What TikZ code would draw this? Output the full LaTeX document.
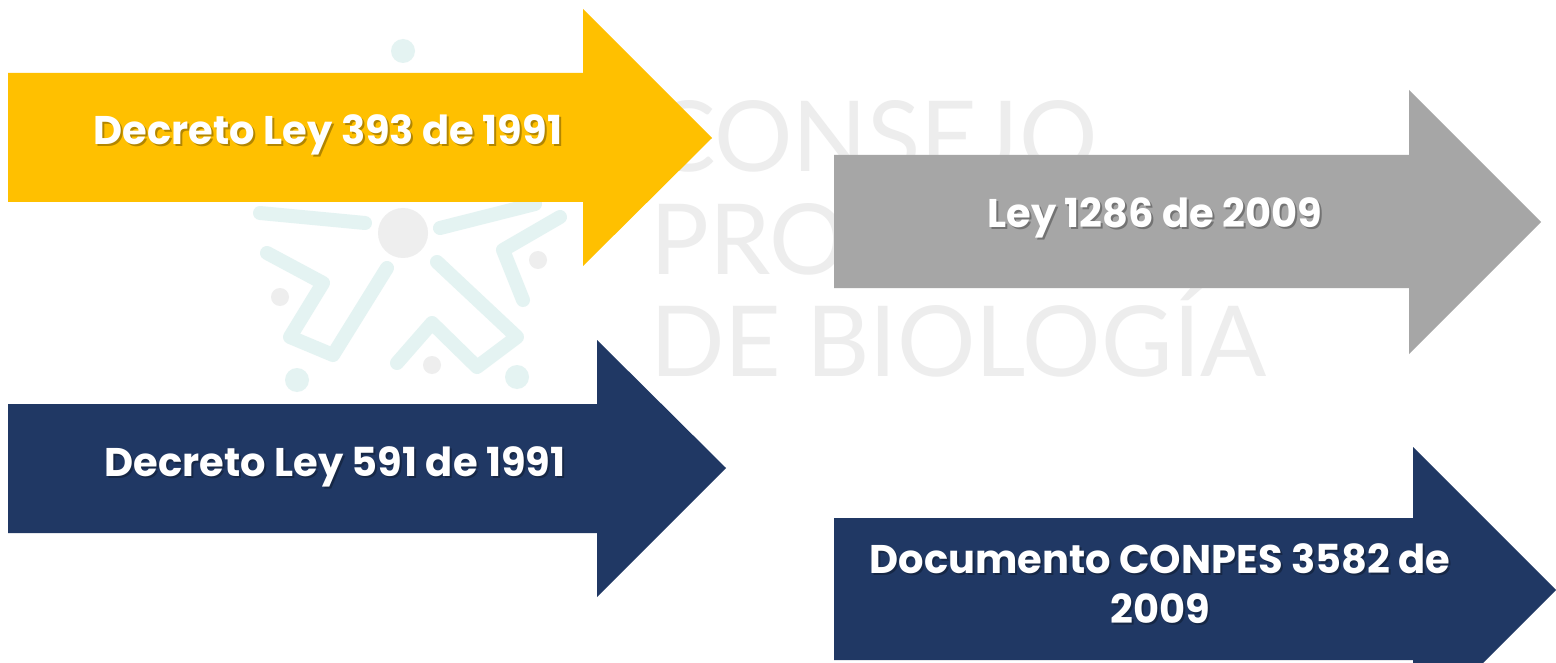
\documentclass[tikz,border=0pt]{standalone}
\usepackage{fontspec}
\newfontfamily\poppins{Poppins}
\newfontfamily\markfont{Lato}
\definecolor{arrowyellow}{HTML}{FFC000}
\definecolor{arrowgray}{HTML}{A6A6A6}
\definecolor{arrownavy}{HTML}{203864}
\definecolor{markteal}{HTML}{E4F3F2}
\definecolor{markgray}{HTML}{EEEEEE}
\definecolor{markletter}{HTML}{EDEDED}
\tikzset{
  arrowlabel/.style={text=white, inner sep=0, anchor=base, align=center,
    font=\poppins\bfseries\fontsize{40}{50}\selectfont},
  labelshadow/.style={arrowlabel, text=black, text opacity=0.3},
  markline/.style={draw=markteal, line width=14, line cap=round, line join=round},
  markword/.style={text=markletter, inner sep=0, anchor=base west,
    font=\markfont\fontsize{98}{100}\selectfont},
}
\begin{document}
\begin{tikzpicture}[x=1pt, y=-1pt]
  \useasboundingbox (0,0) rectangle (1556,663);
  \clip (0,0) rectangle (1556,663);
  \fill[white] (0,0) rectangle (1556,663);
  % watermark
  \node[markword] (consejo) at (650,172) {CONSEJO};
  \node[markword] (profesional) at (650,274) {PROFESIONAL};
  \node[markword] (biologia) at (650,376) {DE BIOLOGÍA};
  \draw[markline] (260,213) -- (365,223);
  \draw[markline] (440,228) -- (535,204);
  \draw[markline] (560,217) -- (503,250) -- (523,300);
  \draw[markline] (267,253) -- (323,283) -- (290,337) -- (333,355) -- (387,268);
  \draw[markline] (437,262) -- (517,337) -- (477,367) -- (432,323) -- (397,363);
  \fill[markteal] (403,51) circle (12pt);
  \fill[markgray] (403,233) circle (25pt);
  \fill[markgray] (538,260) circle (9pt);
  \fill[markgray] (280,297) circle (9pt);
  \fill[markgray] (432,365) circle (9pt);
  \fill[markteal] (297,380) circle (12pt);
  \fill[markteal] (517,377) circle (12pt);
  % arrows
  \fill[arrowyellow] (8,73) -- (583,73) -- (583,9) -- (712,138) -- (583,266) -- (583,202) -- (8,202) -- cycle;
  \fill[arrowgray] (834,155) -- (1409,155) -- (1409,90) -- (1541,222) -- (1409,354) -- (1409,288) -- (834,288) -- cycle;
  \fill[arrownavy] (8,404) -- (597,404) -- (597,340) -- (726,468) -- (597,597) -- (597,533) -- (8,533) -- cycle;
  \fill[arrownavy] (834,518) -- (1413,518) -- (1413,447) -- (1556,590) -- (1413,733) -- (1413,660) -- (834,660) -- cycle;
  % labels
  \node[labelshadow] at (330,147) {Decreto Ley 393 de 1991};
  \node[arrowlabel] (decreto393) at (328,145) {Decreto Ley 393 de 1991};
  \node[labelshadow] at (1157,230) {Ley 1286 de 2009};
  \node[arrowlabel] (ley1286) at (1155,228) {Ley 1286 de 2009};
  \node[labelshadow] at (337,478) {Decreto Ley 591 de 1991};
  \node[arrowlabel] (decreto591) at (335,476) {Decreto Ley 591 de 1991};
  \node[labelshadow] at (1162,625) {Documento CONPES 3582 de\\2009};
  \node[arrowlabel] (conpes) at (1160,623) {Documento CONPES 3582 de\\2009};
\end{tikzpicture}
\end{document}
